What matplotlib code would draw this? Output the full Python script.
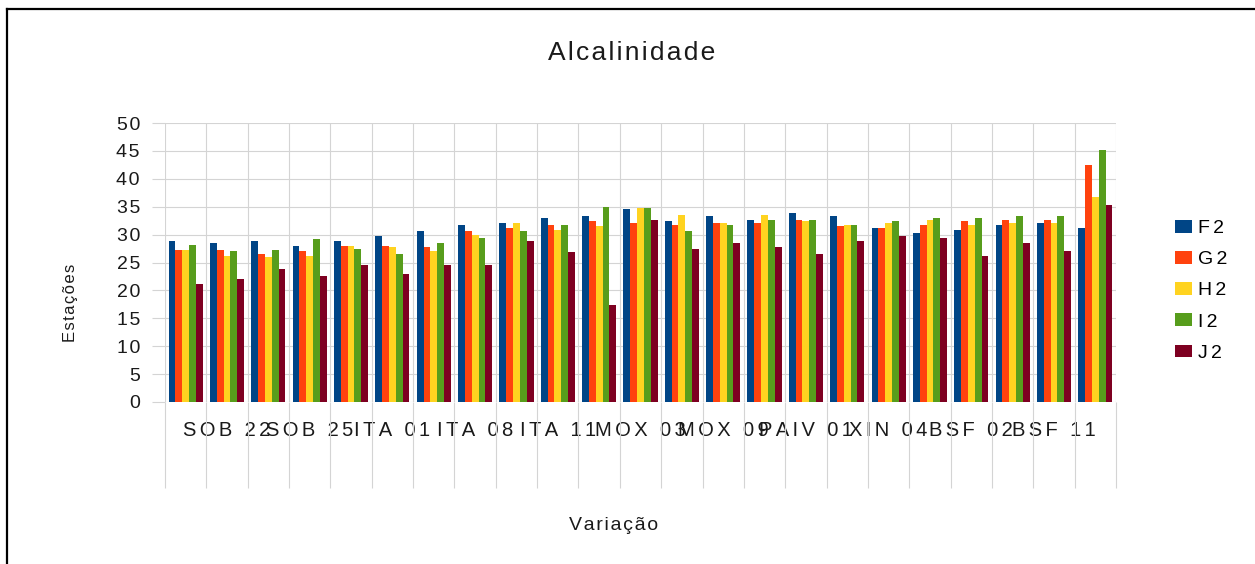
import numpy as np
import matplotlib
matplotlib.use("Agg")
import matplotlib.pyplot as plt
from matplotlib.patches import Patch
from matplotlib.lines import Line2D

plt.rcParams['font.family'] = ['Liberation Sans', 'DejaVu Sans']

# ---- data ----
series_names = ['F2', 'G2', 'H2', 'I2', 'J2']
F2 = [28.8, 28.5, 28.8, 28.0, 28.8, 29.7, 30.6, 31.8, 32.1, 33.0, 33.3, 34.5,
      32.4, 33.3, 32.7, 33.9, 33.3, 31.2, 30.3, 30.9, 31.8, 32.1, 31.2]
G2 = [27.3, 27.3, 26.5, 27.0, 28.0, 28.0, 27.7, 30.6, 31.2, 31.8, 32.4, 32.1,
      31.8, 32.1, 32.1, 32.7, 31.5, 31.2, 31.8, 32.4, 32.7, 32.7, 42.4]
H2 = [27.3, 26.2, 25.9, 26.2, 28.0, 27.7, 27.0, 30.0, 32.1, 30.9, 31.5, 34.7,
      33.6, 32.1, 33.6, 32.4, 31.8, 32.1, 32.7, 31.8, 32.1, 32.1, 36.7]
I2 = [28.2, 27.0, 27.3, 29.2, 27.4, 26.5, 28.5, 29.4, 30.6, 31.8, 34.9, 34.7,
      30.6, 31.8, 32.7, 32.7, 31.8, 32.4, 33.0, 33.0, 33.3, 33.3, 45.2]
J2 = [21.1, 22.0, 23.8, 22.6, 24.5, 23.0, 24.5, 24.5, 28.8, 26.8, 17.3, 32.7,
      27.4, 28.5, 27.7, 26.5, 28.8, 29.7, 29.4, 26.2, 28.5, 27.0, 35.3]
tick_labels = ['SOB 22', 'SOB 25', 'ITA 01', 'ITA 08', 'ITA 11', 'MOX 03',
               'MOX 09', 'PAIV 01', 'XIN 04', 'BSF 02', 'BSF 11']
colors = ['#004586', '#ff420e', '#ffd320', '#579d1c', '#7e0021']


def spaced(s, sep='\u200a'):
    return sep.join(s)


W, H = 1255, 564
fig = plt.figure(figsize=(W / 100, H / 100), dpi=100)
ax = fig.add_axes([165 / W, 1 - 402 / H, (1116 - 165) / W, (402 - 123) / H])

series = [F2, G2, H2, I2, J2]
n = len(F2)
x = np.arange(n)
bw = 0.165
for i, (vals, c) in enumerate(zip(series, colors)):
    ax.bar(x + (i - 2) * bw, vals, width=bw, color=c, linewidth=0, zorder=3)

ax.set_xlim(-0.5, n - 0.5)
ax.set_ylim(0, 50)
ax.set_yticks(np.arange(0, 51, 5))
ax.set_yticklabels([spaced(str(v)) for v in range(0, 51, 5)], fontsize=14)

grid_c = '#d4d4d4'
ax.set_xticks(x[1::2])
ax.set_xticklabels([spaced(t, '\u2006') for t in tick_labels], fontsize=14.5)
ax.set_xticks(np.arange(-0.5, n), minor=True)
ax.tick_params(axis='x', which='major', length=0, pad=13.5, colors='#1a1a1a')
ax.tick_params(axis='x', which='minor', length=62, width=0.8, color=grid_c,
               direction='out')
ax.tick_params(axis='y', which='major', length=9.4, width=0.8, color=grid_c,
               direction='out', pad=8.6, labelcolor='#1a1a1a')
ax.grid(axis='x', which='minor', color=grid_c, linewidth=0.8, zorder=0)
ax.grid(axis='y', which='major', color=grid_c, linewidth=0.8, zorder=0)
ax.set_axisbelow(True)
for s in ax.spines.values():
    s.set_visible(False)

fig.text(632 / W, 1 - 53 / H, spaced('Alcalinidade'), fontsize=19,
         ha='center', va='center', color='#1a1a1a')
fig.text(71 / W, 1 - 303 / H, spaced('Estações'), fontsize=12, rotation=90,
         ha='center', va='center', color='#1a1a1a')
fig.text(614 / W, 1 - 525 / H, spaced('Variação'), fontsize=14,
         ha='center', va='center', color='#1a1a1a')

handles = [Patch(facecolor=c, edgecolor='none') for c in colors]
fig.legend(handles, [spaced(s, '\u2006') for s in series_names], loc='upper left',
           bbox_to_anchor=(1175 / W, 1 - 220 / H), frameon=False,
           fontsize=14, handlelength=0.88, handleheight=0.62,
           handletextpad=0.3, labelspacing=0.72, borderpad=0,
           borderaxespad=0)

# outer frame (top and left edges visible)
fig.add_artist(Line2D([7 / W, 7 / W], [0, 1 - 9 / H], transform=fig.transFigure,
                      color='black', linewidth=1.6))
fig.add_artist(Line2D([7 / W, 1], [1 - 9 / H, 1 - 9 / H], transform=fig.transFigure,
                      color='black', linewidth=1.6))

fig.savefig('out.png', dpi=100)
